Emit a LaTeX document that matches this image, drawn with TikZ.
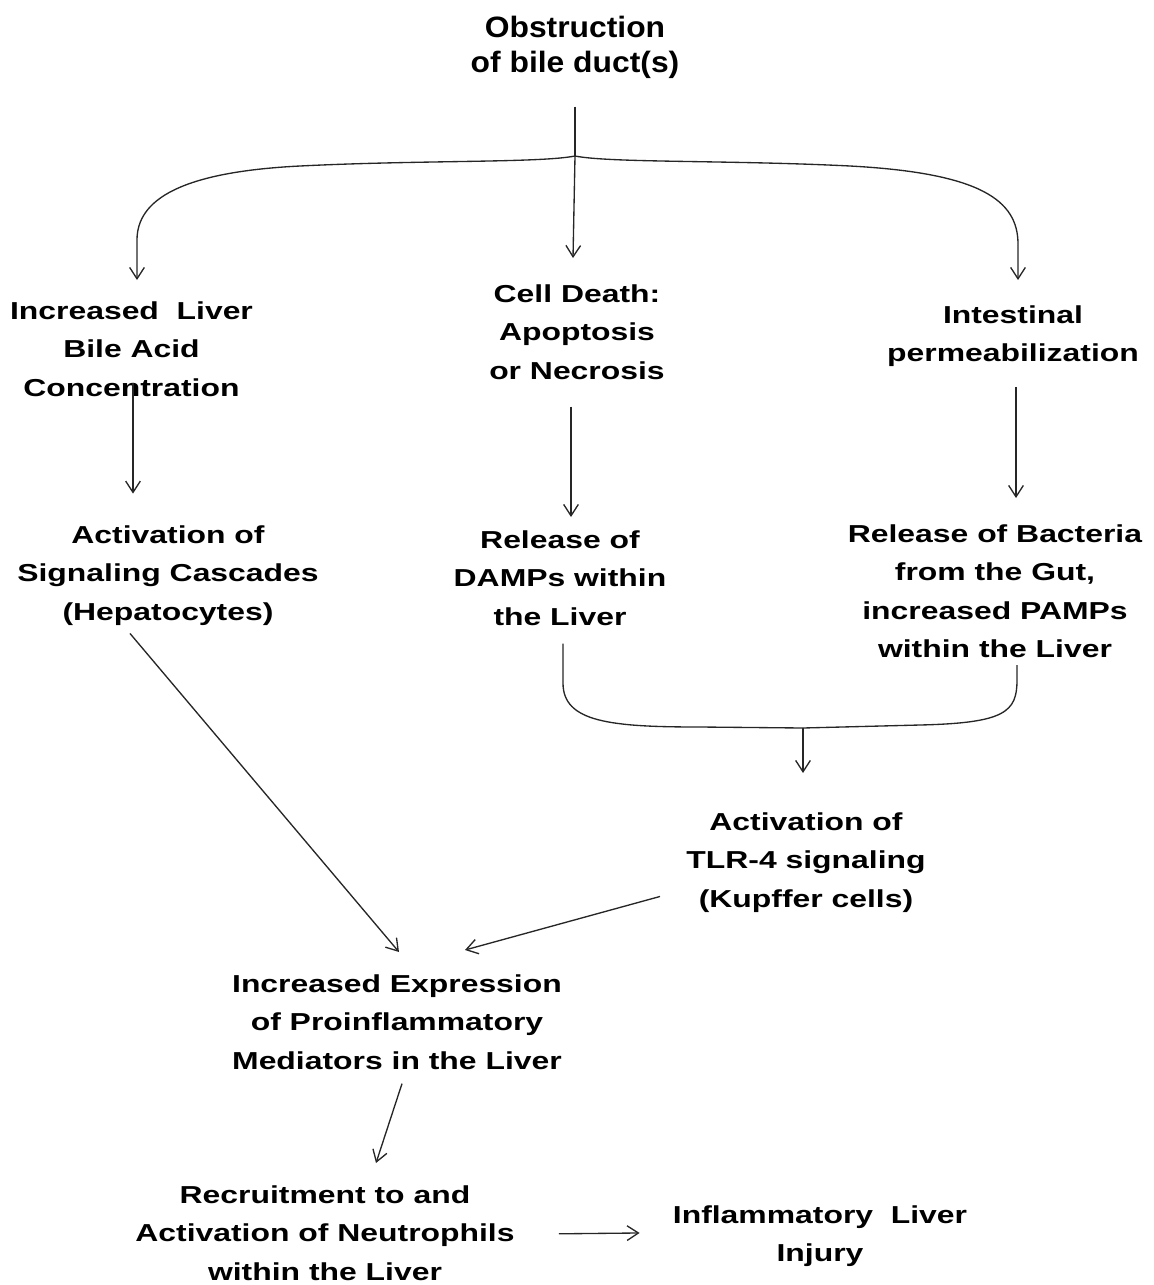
\documentclass[tikz,border=0pt]{standalone}
\usepackage{fontspec}
\setmainfont[FakeStretch=1.3]{Liberation Sans}
\newfontfamily\topfont[FakeStretch=1.08]{Liberation Sans}
\usetikzlibrary{arrows.meta,calc}
\begin{document}
\begin{tikzpicture}[x=0.75pt,y=-0.75pt,
  lbl/.style={align=center,inner sep=0pt,anchor=north,font=\bfseries\fontsize{18.4}{28.9}\selectfont},
  toplbl/.style={align=center,inner sep=0pt,anchor=north,font=\topfont\bfseries\fontsize{22.1}{26.3}\selectfont},
  conn/.style={draw=black!85,line width=1pt},
  arr/.style={conn,-{Straight Barb[length=8.5pt,width=11pt]}}]
\useasboundingbox (0,0) rectangle (1153,1285);

\node[toplbl] (obs) at (575,15.5) {Obstruction\\of bile duct(s)};
\node[lbl] (inc) at (131.5,301) {Increased\ \ Liver\\Bile Acid\\Concentration};
\node[lbl] (cd) at (577,284) {Cell Death:\\Apoptosis\\or Necrosis};
\node[lbl] (int) at (1013,305) {Intestinal\\permeabilization};
\node[lbl] (sig) at (168,525) {Activation of\\Signaling Cascades\\(Hepatocytes)};
\node[lbl] (dam) at (560,530) {Release of\\DAMPs within\\the Liver};
\node[lbl] (bac) at (995,524) {Release of Bacteria\\from the Gut,\\increased PAMPs\\within the Liver};
\node[lbl] (tlr) at (806,812) {Activation of\\TLR-4 signaling\\(Kupffer cells)};
\node[lbl] (exp) at (397,974) {Increased Expression\\of Proinflammatory\\Mediators in the Liver};
\node[lbl] (rec) at (325,1185) {Recruitment to and\\Activation of Neutrophils\\within the Liver};
\node[lbl] (inj) at (820,1205) {Inflammatory\ \ Liver\\Injury};

% top split
\coordinate (J) at (575,156);
\draw[conn] ($(obs.south)+(0,28)$) -- (J);
\draw[arr] (J) -- ($(cd.north)+(-4,-26)$);
\draw[arr] (J) .. controls (540,163) and (420,160) .. (300,166) .. controls (180,172) and (137,200) .. ($(inc.north)+(5.5,-61)$) -- ($(inc.north)+(5.5,-21)$);
\draw[arr] (J) .. controls (610,163) and (730,160) .. (850,166) .. controls (980,173) and (1018,200) .. ($(int.north)+(5,-61)$) -- ($(int.north)+(5,-25)$);

% second row arrows
\draw[arr] ($(inc.south)+(1.5,-14)$) -- ($(inc.south)+(1.5,97)$);
\draw[arr] ($(cd.south)+(-6,27)$) -- ($(dam.north)+(11,-13)$);
\draw[arr] ($(int.south)+(3,20)$) -- ($(bac.north)+(21,-26)$);

% bracket
\coordinate (K) at (803,728);
\draw[conn] ($(dam.south)+(3,18)$) -- (563,683) .. controls (563,722) and (610,727) .. (700,727) -- (K);
\draw[conn] (K) -- (920,725) .. controls (1005,723) and (1017,712) .. (1017,680) -- ($(bac.south)+(22,7)$);
\draw[arr] (K) -- ($(tlr.north)+(-3,-39)$);

% converging arrows
\draw[arr] ($(sig.south)+(-38,8)$) -- ($(exp.north)+(2,-22)$);
\draw[arr] ($(tlr.south)+(-146,-16)$) -- ($(exp.north)+(68,-24)$);
\draw[arr] ($(exp.south)+(5,14)$) -- ($(rec.north)+(51,-22)$);
\draw[arr] ($(rec.east)+(44,1)$) -- ($(inj.west)+(-33,-3)$);
\end{tikzpicture}
\end{document}
